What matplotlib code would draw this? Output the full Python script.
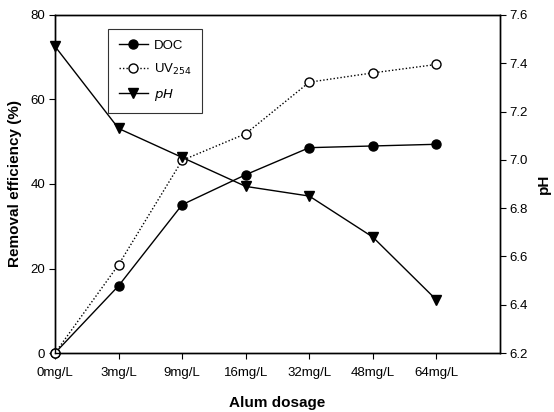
import matplotlib
matplotlib.use("Agg")
import matplotlib.pyplot as plt

plt.rcParams['font.family'] = ['Liberation Sans', 'DejaVu Sans']

# alum dosages and measured values
doses = ["0mg/L", "3mg/L", "9mg/L", "16mg/L", "32mg/L", "48mg/L", "64mg/L"]
doc = [0, 15.9, 35.1, 42.2, 48.6, 49.0, 49.4]
uv254 = [0, 20.9, 45.6, 51.9, 64.1, 66.3, 68.3]
ph = [7.47, 7.13, 7.01, 6.89, 6.85, 6.68, 6.42]

x = list(range(len(doses)))

fig = plt.figure(figsize=(5.54, 4.12), dpi=100)
ax = fig.add_axes([0.0993, 0.1432, 0.8032, 0.8204])
ax2 = ax.twinx()

l1, = ax.plot(x, doc, color="black", lw=1.0, marker="o", ms=6.5,
              mfc="black", mec="black", label="DOC", clip_on=False, zorder=3)
l2, = ax.plot(x, uv254, color="black", lw=1.0, ls=(0, (1, 1.5)), marker="o", ms=6.5,
              mfc="white", mec="black", label="UV$_{254}$", clip_on=False, zorder=4)
l3, = ax2.plot(x, ph, color="black", lw=1.0, marker="v", ms=7,
               mfc="black", mec="black", label="$pH$", clip_on=False, zorder=3)

ax.set_xlim(0, 7)
ax.set_ylim(0, 80)
ax.set_yticks([0, 20, 40, 60, 80])
ax.set_xticks(x)
ax.set_xticklabels(doses)
ax2.set_ylim(6.2, 7.6)
ax2.set_yticks([6.2, 6.4, 6.6, 6.8, 7.0, 7.2, 7.4, 7.6])
ax2.set_yticklabels(["6.2", "6.4", "6.6", "6.8", "7.0", "7.2", "7.4", "7.6"])

for a in (ax, ax2):
    a.tick_params(direction="out", length=4, width=0.8, labelsize=9.5, pad=3)
    for s in a.spines.values():
        s.set_linewidth(1.0)
ax.tick_params(axis="x", pad=6)

ax.set_ylabel("Removal efficiency (%)", fontsize=11, fontweight="bold", labelpad=6)
ax.set_xlabel("Alum dosage", fontsize=11, fontweight="bold", labelpad=12)
ax2.set_ylabel("pH", fontsize=11, fontweight="bold")
ax2.yaxis.set_label_coords(1.082, 0.5)

leg = ax.legend(handles=[l1, l2, l3], loc="upper left", bbox_to_anchor=(0.119, 0.9586),
                borderaxespad=0, frameon=True, fancybox=False, edgecolor="black",
                fontsize=9.5, handlelength=2.2, borderpad=0.8, labelspacing=0.75,
                handletextpad=0.5)
leg.get_frame().set_linewidth(0.8)

fig.savefig("out.png", dpi=100)
